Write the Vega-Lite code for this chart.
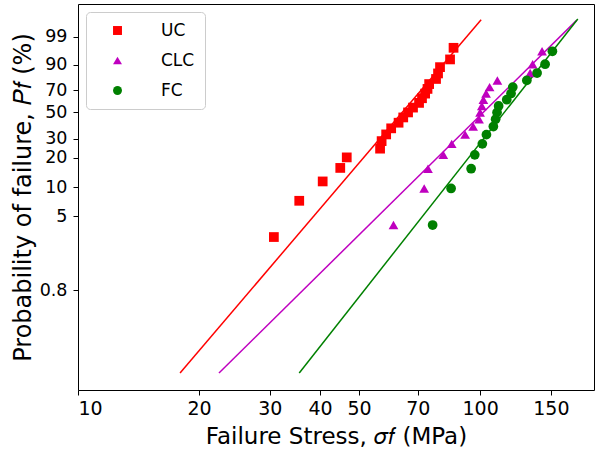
{
  "$schema": "https://vega.github.io/schema/vega-lite/v6.json",
  "width": 516,
  "height": 386,
  "autosize": "none",
  "padding": {"left": 78, "top": 4, "right": 6, "bottom": 64},
  "background": "white",
  "config": {
    "view": {"stroke": "black", "strokeWidth": 1},
    "font": "DejaVu Sans",
    "axis": {
      "grid": false,
      "domain": false,
      "tickColor": "black",
      "tickSize": 5,
      "labelOverlap": false,
      "labelColor": "black",
      "labelFont": "DejaVu Sans",
      "labelFontSize": 17.5,
      "titleFont": "DejaVu Sans",
      "titleFontSize": 23,
      "titleFontWeight": "normal",
      "titleColor": "black"
    },
    "legend": {
      "orient": "top-left",
      "offset": 8,
      "padding": 10,
      "symbolOffset": 13,
      "labelOffset": 35,
      "rowPadding": 12,
      "labelFontSize": 17,
      "labelFont": "DejaVu Sans",
      "labelColor": "black",
      "symbolSize": 80,
      "strokeColor": "#cccccc",
      "fillColor": "white",
      "cornerRadius": 4
    }
  },
  "datasets": {
    "fits": [
      {"stress": 17.94, "pf_weibull": -6.907, "series": "UC"},
      {"stress": 100.6, "pf_weibull": 1.96, "series": "UC"},
      {"stress": 22.42, "pf_weibull": -6.907, "series": "CLC"},
      {"stress": 174.0, "pf_weibull": 1.95, "series": "CLC"},
      {"stress": 35.5, "pf_weibull": -6.907, "series": "FC"},
      {"stress": 175.0, "pf_weibull": 1.98, "series": "FC"}
    ],
    "obs": [
      {"stress": 30.7, "pf_weibull": -3.4944, "series": "UC"},
      {"stress": 35.5, "pf_weibull": -2.5846, "series": "UC"},
      {"stress": 40.6, "pf_weibull": -2.0988, "series": "UC"},
      {"stress": 44.9, "pf_weibull": -1.7595, "series": "UC"},
      {"stress": 46.6, "pf_weibull": -1.4952, "series": "UC"},
      {"stress": 56.4, "pf_weibull": -1.2759, "series": "UC"},
      {"stress": 56.9, "pf_weibull": -1.0867, "series": "UC"},
      {"stress": 58.4, "pf_weibull": -0.9186, "series": "UC"},
      {"stress": 60.1, "pf_weibull": -0.766, "series": "UC"},
      {"stress": 62.7, "pf_weibull": -0.6249, "series": "UC"},
      {"stress": 64.4, "pf_weibull": -0.4924, "series": "UC"},
      {"stress": 66.2, "pf_weibull": -0.3665, "series": "UC"},
      {"stress": 68.1, "pf_weibull": -0.2453, "series": "UC"},
      {"stress": 70.5, "pf_weibull": -0.1271, "series": "UC"},
      {"stress": 71.7, "pf_weibull": -0.0106, "series": "UC"},
      {"stress": 73.0, "pf_weibull": 0.1057, "series": "UC"},
      {"stress": 74.0, "pf_weibull": 0.2237, "series": "UC"},
      {"stress": 74.7, "pf_weibull": 0.3452, "series": "UC"},
      {"stress": 77.7, "pf_weibull": 0.4733, "series": "UC"},
      {"stress": 78.6, "pf_weibull": 0.6122, "series": "UC"},
      {"stress": 79.5, "pf_weibull": 0.7699, "series": "UC"},
      {"stress": 84.2, "pf_weibull": 0.964, "series": "UC"},
      {"stress": 85.9, "pf_weibull": 1.2555, "series": "UC"},
      {"stress": 60.9, "pf_weibull": -3.1928, "series": "CLC"},
      {"stress": 72.6, "pf_weibull": -2.2749, "series": "CLC"},
      {"stress": 74.2, "pf_weibull": -1.78, "series": "CLC"},
      {"stress": 81.0, "pf_weibull": -1.4309, "series": "CLC"},
      {"stress": 85.0, "pf_weibull": -1.1556, "series": "CLC"},
      {"stress": 91.8, "pf_weibull": -0.9241, "series": "CLC"},
      {"stress": 96.1, "pf_weibull": -0.7211, "series": "CLC"},
      {"stress": 99.4, "pf_weibull": -0.5373, "series": "CLC"},
      {"stress": 100.0, "pf_weibull": -0.3665, "series": "CLC"},
      {"stress": 101.0, "pf_weibull": -0.2043, "series": "CLC"},
      {"stress": 101.9, "pf_weibull": -0.0467, "series": "CLC"},
      {"stress": 103.5, "pf_weibull": 0.1098, "series": "CLC"},
      {"stress": 105.6, "pf_weibull": 0.2692, "series": "CLC"},
      {"stress": 110.4, "pf_weibull": 0.437, "series": "CLC"},
      {"stress": 133.2, "pf_weibull": 0.6223, "series": "CLC"},
      {"stress": 135.1, "pf_weibull": 0.8441, "series": "CLC"},
      {"stress": 142.6, "pf_weibull": 1.1673, "series": "CLC"},
      {"stress": 76.2, "pf_weibull": -3.1928, "series": "FC"},
      {"stress": 84.7, "pf_weibull": -2.2749, "series": "FC"},
      {"stress": 95.0, "pf_weibull": -1.78, "series": "FC"},
      {"stress": 97.0, "pf_weibull": -1.4309, "series": "FC"},
      {"stress": 101.3, "pf_weibull": -1.1556, "series": "FC"},
      {"stress": 103.7, "pf_weibull": -0.9241, "series": "FC"},
      {"stress": 107.9, "pf_weibull": -0.7211, "series": "FC"},
      {"stress": 109.3, "pf_weibull": -0.5373, "series": "FC"},
      {"stress": 110.2, "pf_weibull": -0.3665, "series": "FC"},
      {"stress": 111.2, "pf_weibull": -0.2043, "series": "FC"},
      {"stress": 116.5, "pf_weibull": -0.0467, "series": "FC"},
      {"stress": 119.4, "pf_weibull": 0.1098, "series": "FC"},
      {"stress": 120.6, "pf_weibull": 0.2692, "series": "FC"},
      {"stress": 130.7, "pf_weibull": 0.437, "series": "FC"},
      {"stress": 138.6, "pf_weibull": 0.6223, "series": "FC"},
      {"stress": 145.1, "pf_weibull": 0.8441, "series": "FC"},
      {"stress": 151.3, "pf_weibull": 1.1673, "series": "FC"}
    ]
  },
  "encoding": {
    "x": {
      "field": "stress",
      "type": "quantitative",
      "scale": {"type": "log", "domain": [10, 192], "nice": false},
      "axis": {
        "values": [10, 20, 30, 40, 50, 70, 100, 150],
        "format": "d",
        "labelFontSize": 19,
        "labelPadding": 4,
        "titlePadding": 7,
        "title": "Failure Stress, 𝜎𝑓 (MPa)"
      }
    },
    "y": {
      "field": "pf_weibull",
      "type": "quantitative",
      "scale": {"domain": [-7.334, 2.355], "nice": false, "zero": false},
      "axis": {
        "values": [1.5272, 0.834, 0.1856, -0.3665, -1.0309, -1.4999, -2.2504, -2.9702, -4.8243],
        "labelExpr": "100 * (1 - exp(-exp(datum.value))) < 1 ? format(100 * (1 - exp(-exp(datum.value))), '.1f') : format(100 * (1 - exp(-exp(datum.value))), '.0f')",
        "labelPadding": 6,
        "titlePadding": 4,
        "titleFontSize": 24,
        "title": "Probability of failure, 𝑃𝑓 (%)"
      }
    }
  },
  "layer": [
    {
      "data": {"name": "fits"},
      "transform": [{"filter": "datum.series == 'UC'"}],
      "mark": {"type": "line", "strokeWidth": 1.5, "color": "#ff0000"}
    },
    {
      "data": {"name": "fits"},
      "transform": [{"filter": "datum.series == 'CLC'"}],
      "mark": {"type": "line", "strokeWidth": 1.5, "color": "#bf00bf"}
    },
    {
      "data": {"name": "fits"},
      "transform": [{"filter": "datum.series == 'FC'"}],
      "mark": {"type": "line", "strokeWidth": 1.5, "color": "#008000"}
    },
    {
      "data": {"name": "obs"},
      "mark": {"type": "point", "filled": true, "opacity": 1, "size": 95},
      "encoding": {
        "color": {
          "field": "series",
          "type": "nominal",
          "scale": {"domain": ["UC", "CLC", "FC"], "range": ["#ff0000", "#bf00bf", "#008000"]},
          "title": null
        },
        "shape": {
          "field": "series",
          "type": "nominal",
          "scale": {"domain": ["UC", "CLC", "FC"], "range": ["square", "triangle-up", "circle"]},
          "title": null
        }
      }
    }
  ]
}
